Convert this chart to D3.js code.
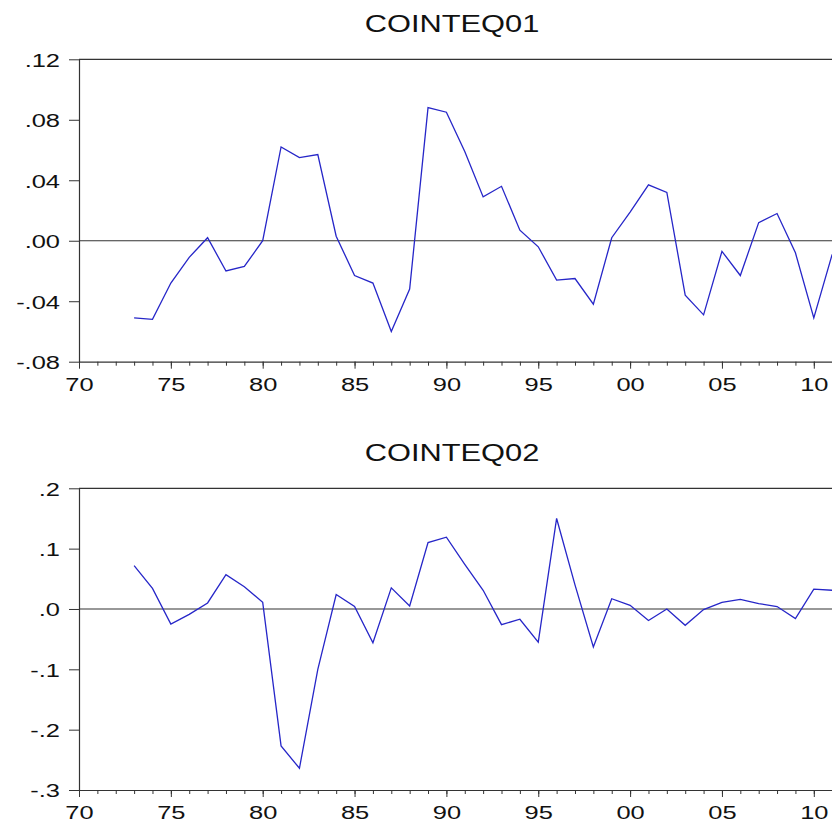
<!DOCTYPE html>
<html>
<head>
<meta charset="utf-8">
<script src="https://cdn.jsdelivr.net/npm/d3@7"></script>
<style>
  body { margin: 0; background: #fff; }
  svg { display: block; }
  text { font-family: "Liberation Sans", Arial, sans-serif; fill: #111; }
</style>
</head>
<body>
<svg id="chart" width="832" height="823"></svg>
<script>
// Years 1973-2011
const years = d3.range(1973, 2012);

const cointeq01 = [
  -0.051, -0.052, -0.028, -0.011, 0.002, -0.020, -0.017, 0.000,
  0.062, 0.055, 0.057, 0.003, -0.023, -0.028, -0.060, -0.032,
  0.088, 0.085, 0.059, 0.029, 0.036, 0.007, -0.004, -0.026,
  -0.025, -0.042, 0.002, 0.019, 0.037, 0.032, -0.036, -0.049,
  -0.007, -0.023, 0.012, 0.018, -0.008, -0.051, -0.009
];

const cointeq02 = [
  0.072, 0.034, -0.025, -0.009, 0.010, 0.057, 0.037, 0.011,
  -0.227, -0.264, -0.100, 0.024, 0.004, -0.056, 0.035, 0.005,
  0.110, 0.119, 0.074, 0.031, -0.026, -0.017, -0.055, 0.150,
  0.040, -0.063, 0.017, 0.006, -0.019, 0.000, -0.027, -0.001,
  0.011, 0.016, 0.009, 0.004, -0.016, 0.033, 0.031
];

const yTicks01 = [-0.08, -0.04, 0, 0.04, 0.08, 0.12];
const yLabels01 = ["-.08", "-.04", ".00", ".04", ".08", ".12"];
const yTicks02 = [-0.3, -0.2, -0.1, 0, 0.1, 0.2];
const yLabels02 = ["-.3", "-.2", "-.1", ".0", ".1", ".2"];
const xMajor = [1970, 1975, 1980, 1985, 1990, 1995, 2000, 2005, 2010, 2015];
const xLabel = (d) => String(d).slice(2);

const svg = d3.select("#chart");
const stretch = 1.34;
const left = 79;

const x = d3.scaleLinear().domain([1970, 2015]).range([left, left + 45 * 18.37]);

function panel(title, values, ticks, labels, top, bottom) {
  const y = d3.scaleLinear().domain([ticks[0], ticks[ticks.length - 1]]).range([bottom, top]);
  const g = svg.append("g");

  // title
  g.append("text")
    .attr("transform", `translate(452,${top - 27.5}) scale(${stretch},1)`)
    .attr("text-anchor", "middle")
    .style("font-size", "23px")
    .text(title);

  // frame top
  g.append("line")
    .attr("x1", left).attr("x2", 832)
    .attr("y1", top).attr("y2", top)
    .attr("stroke", "#333").attr("stroke-width", 1.2);

  // zero line
  g.append("line")
    .attr("x1", left).attr("x2", 832)
    .attr("y1", y(0)).attr("y2", y(0))
    .attr("stroke", "#333").attr("stroke-width", 1.1);

  // y axis
  const yAxis = g.append("g")
    .attr("transform", `translate(${left},0)`)
    .call(d3.axisLeft(y).tickValues(ticks).tickSize(10).tickSizeOuter(0)
      .tickFormat((d, i) => labels[i]));
  yAxis.select(".domain").attr("stroke", "#333").attr("stroke-width", 1.2);
  yAxis.selectAll(".tick line").attr("stroke", "#333");
  yAxis.selectAll(".tick text")
    .attr("x", -19 / stretch)
    .attr("dy", "0.36em")
    .attr("transform", `scale(${stretch},1)`)
    .style("font-size", "19px")
    .attr("fill", "#111");

  // x axis minor ticks
  const xMinor = g.append("g")
    .attr("transform", `translate(0,${bottom})`)
    .call(d3.axisBottom(x).tickValues(d3.range(1970, 2016)).tickSize(4).tickSizeOuter(0).tickFormat(""));
  xMinor.select(".domain").attr("stroke", "#333").attr("stroke-width", 1.2);
  xMinor.selectAll(".tick line").attr("stroke", "#333");

  // x axis major ticks
  const xAxis = g.append("g")
    .attr("transform", `translate(0,${bottom})`)
    .call(d3.axisBottom(x).tickValues(xMajor).tickSize(7).tickSizeOuter(0).tickFormat(xLabel));
  xAxis.select(".domain").remove();
  xAxis.selectAll(".tick line").attr("stroke", "#333");
  xAxis.selectAll(".tick text")
    .attr("y", 29)
    .attr("dy", 0)
    .attr("transform", `scale(${stretch},1)`)
    .style("font-size", "19px")
    .attr("fill", "#111");

  // series
  const line = d3.line().x((d, i) => x(years[i])).y((d) => y(d));
  g.append("path")
    .datum(values)
    .attr("d", line)
    .attr("fill", "none")
    .attr("stroke", "#2626c8")
    .attr("stroke-width", 1.3);
}

panel("COINTEQ01", cointeq01, yTicks01, yLabels01, 59.3, 361.7);
panel("COINTEQ02", cointeq02, yTicks02, yLabels02, 488.3, 790);
</script>
</body>
</html>
